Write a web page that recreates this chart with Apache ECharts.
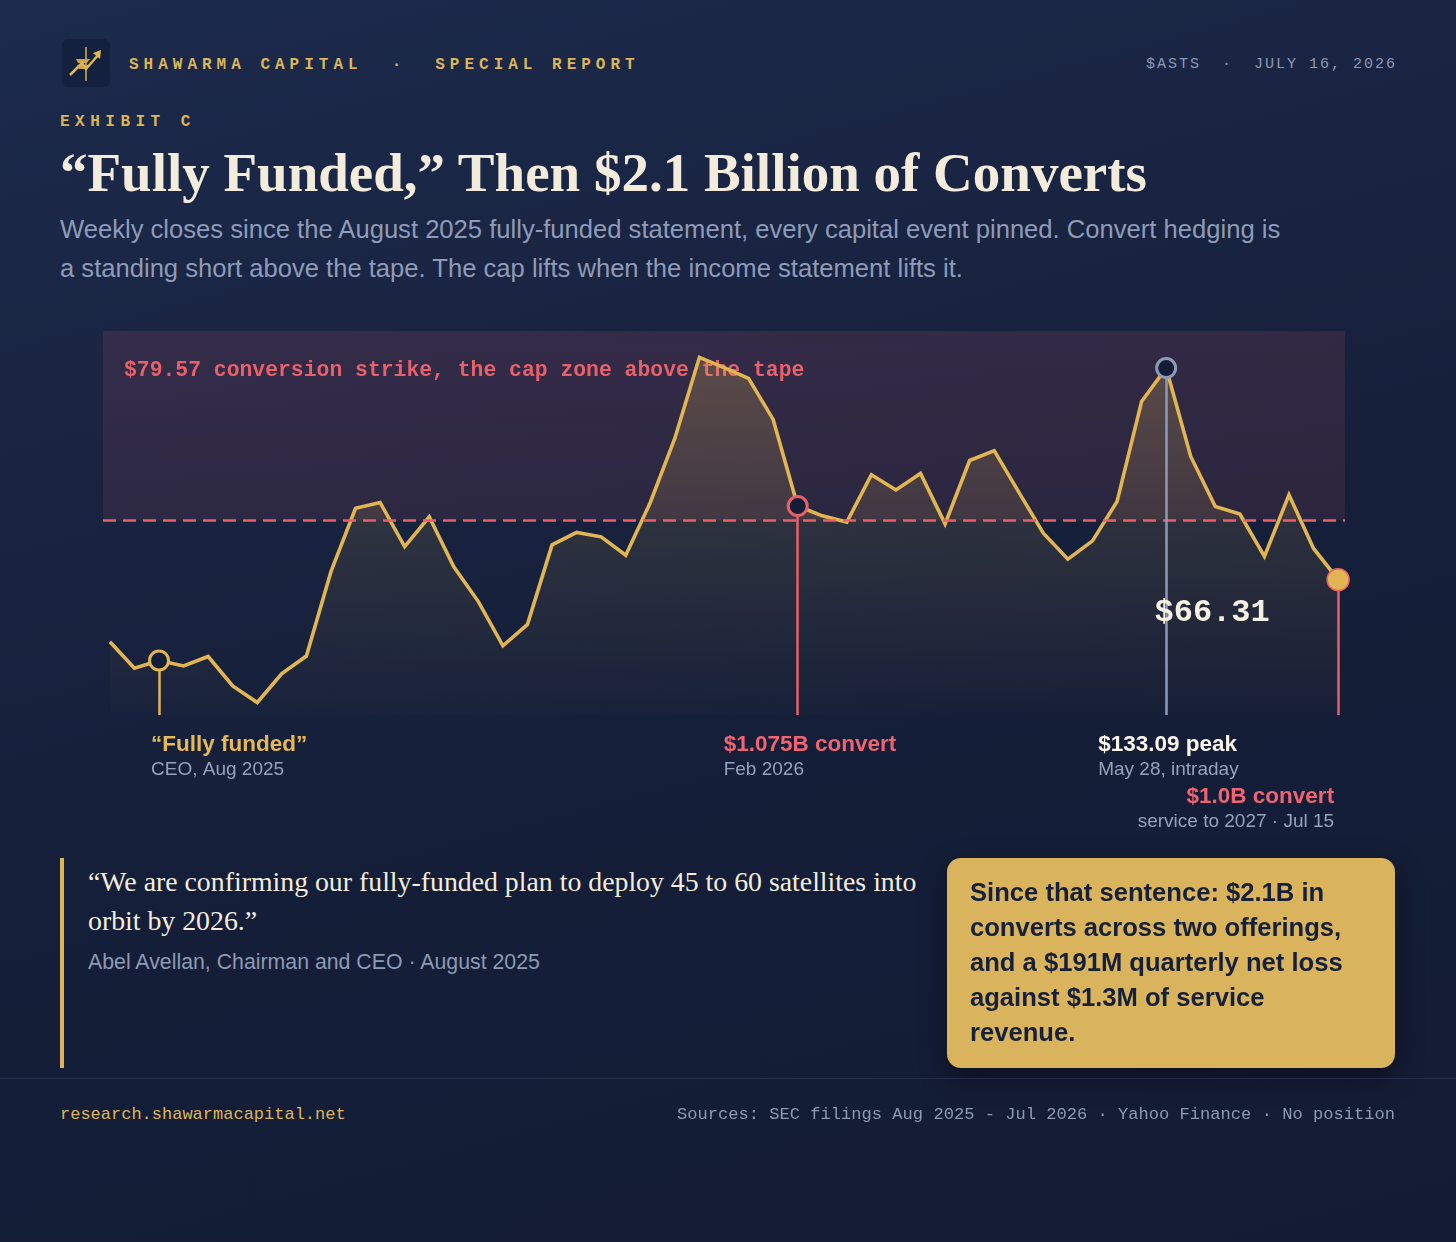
<!DOCTYPE html>
<html>
<head>
<meta charset="utf-8">
<script src="https://cdn.jsdelivr.net/npm/echarts@6/dist/echarts.min.js"></script>
<style>
  html, body { margin: 0; padding: 0; }
  body {
    width: 1456px; height: 1242px; position: relative; overflow: hidden;
    background: linear-gradient(165deg, #1c2a4c 0%, #18233f 35%, #151e38 60%, #141c35 100%);
    font-family: "Liberation Sans", Arial, sans-serif;
  }
  .abs { position: absolute; white-space: nowrap; }
  .mono { font-family: "Liberation Mono", "DejaVu Sans Mono", monospace; }
  #logo { left: 62px; top: 39px; width: 48px; height: 48px; background: #13203e; border-radius: 6px; }
  #brand { left: 129px; top: 55px; display: flex; gap: 29px; font-weight: bold; font-size: 16px;
    letter-spacing: 5.0px; color: #dcb55a; line-height: 20px; }
  #meta { right: 59px; top: 56px; display: flex; gap: 21px; font-size: 15px; letter-spacing: 2px;
    color: #8e99b5; line-height: 18px; }
  #exhibit { left: 60px; top: 112px; font-weight: bold; font-size: 16px; letter-spacing: 5.5px;
    color: #dcb55a; line-height: 20px; }
  #title { left: 60px; top: 145px; font-family: "Liberation Serif", "Times New Roman", serif;
    font-weight: bold; font-size: 55px; line-height: 55px; color: #f3ecdc; }
  #sub { left: 60px; top: 210px; font-size: 25.6px; line-height: 39px; color: #8f9bb8; }
  #chart { left: 0; top: 300px; width: 1456px; height: 560px; }
  #qbar { left: 60px; top: 858px; width: 4px; height: 210px; background: #dcb55a; }
  #quote { left: 88px; top: 862px; font-family: "Liberation Serif", "Times New Roman", serif;
    font-size: 27.8px; line-height: 39px; color: #f3ecdc; }
  #attr { left: 88px; top: 950px; font-size: 21.3px; line-height: 24px; color: #8e99b5; }
  #callout { left: 947px; top: 858px; width: 448px; height: 210px; box-sizing: border-box;
    padding: 17px 18px 0 23px; background: #d9b45c; border-radius: 14px;
    box-shadow: 0 10px 28px rgba(0,0,0,0.45); font-weight: bold; font-size: 25.6px;
    line-height: 35px; color: #16203b; }
  #rule { left: 0; top: 1078px; width: 1456px; height: 1px; background: #232d49; }
  #site { left: 60px; top: 1105px; font-size: 17px; line-height: 20px; color: #dcb55a; }
  #src { right: 61px; top: 1105px; font-size: 17.1px; line-height: 20px; color: #8e99b5; }
</style>
</head>
<body>
<div id="logo" class="abs">
  <svg width="48" height="48" viewBox="0 0 48 48">
    <line x1="24" y1="8" x2="24" y2="42" stroke="#d9b45c" stroke-width="1.5"/>
    <path d="M14 20 h14 l-3 4 h-9 z M15 26 h12 l-2 4 h-8 z" fill="#c9a24e"/>
    <polyline points="8,36 20,24 24,30 37,15" fill="none" stroke="#e2b553" stroke-width="2.5"/>
    <polygon points="39,11 38,20 31,14" fill="#e2b553"/>
  </svg>
</div>
<div id="brand" class="abs mono"><span>SHAWARMA CAPITAL</span><span>·</span><span>SPECIAL REPORT</span></div>
<div id="meta" class="abs mono"><span>$ASTS</span><span>·</span><span>JULY 16, 2026</span></div>
<div id="exhibit" class="abs mono">EXHIBIT C</div>
<div id="title" class="abs">“Fully Funded,” Then $2.1 Billion of Converts</div>
<div id="sub" class="abs">Weekly closes since the August 2025 fully-funded statement, every capital event pinned. Convert hedging is<br>a standing short above the tape. The cap lifts when the income statement lifts it.</div>
<div id="chart" class="abs"></div>
<div id="qbar" class="abs"></div>
<div id="quote" class="abs">“We are confirming our fully-funded plan to deploy 45 to 60 satellites into<br>orbit by 2026.”</div>
<div id="attr" class="abs">Abel Avellan, Chairman and CEO · August 2025</div>
<div id="callout" class="abs">Since that sentence: $2.1B in<br>converts across two offerings,<br>and a $191M quarterly net loss<br>against $1.3M of service<br>revenue.</div>
<div id="rule" class="abs"></div>
<div id="site" class="abs mono">research.shawarmacapital.net</div>
<div id="src" class="abs mono">Sources: SEC filings Aug 2025 - Jul 2026 · Yahoo Finance · No position</div>

<script>
// weekly closes, Aug 2025 -> Jul 2026
var closes = [52.4, 46.5, 48.2, 47.0, 49.1, 42.5, 38.8, 45.3, 49.2, 68.1,
              82.3, 83.6, 73.7, 80.4, 69.2, 61.4, 51.5, 56.3, 74.1, 76.9,
              75.9, 71.8, 83.6, 98.0, 116.1, 113.8, 111.4, 102.2, 82.8, 80.6,
              79.2, 89.8, 86.4, 90.1, 78.8, 93.0, 95.2, 85.9, 76.7, 70.9,
              75.0, 83.8, 106.2, 113.7, 93.9, 82.7, 81.0, 71.5, 85.3, 73.3,
              66.31];
var strike = 79.57;
var strikeText = '$79.57 conversion strike, the cap zone above the tape';
var lastText = '$66.31';

// pinned events: week index, headline, note
var eventIdx = [2, 28, 43, 50];
var eventTitles = ['“Fully funded”', '$1.075B convert', '$133.09 peak', '$1.0B convert'];
var eventNotes = ['CEO, Aug 2025', 'Feb 2026', 'May 28, intraday', 'service to 2027 · Jul 15'];

var yMin = 36, yMax = 122;
var gold = '#e2b553', red = '#e8606a', slate = '#8d9ab8', navy = '#141d38';

var eventColors = [gold, red, slate, red];
var eventTitleColors = ['#e6b955', '#ee6470', '#fbf6ea', '#ee6470'];
// label placement relative to the bottom of each drop line
var eventLabelPos = [[-8, 17], [-74, 17], [-68, 17], [-4, 69]];
var eventAlign = ['left', 'left', 'left', 'right'];

var chart = echarts.init(document.getElementById('chart'));

var markerData = eventIdx.map(function (idx, k) {
    var last = k === eventIdx.length - 1;
    var item = {
        value: [idx, closes[idx]],
        symbolSize: last ? 22 : 19,
        itemStyle: {
            opacity: 1,
            color: last ? gold : navy,
            borderColor: eventColors[k],
            borderWidth: last ? 1.5 : 3
        }
    };
    if (last) {
        item.label = {
            show: true,
            position: 'inside',
            offset: [-126, 33],
            formatter: lastText,
            fontFamily: 'Liberation Mono',
            fontWeight: 'bold',
            fontSize: 32,
            color: '#f6f0e2'
        };
    }
    return item;
});

var dropLines = eventIdx.map(function (idx, k) {
    return [
        {coord: [idx, closes[idx]], lineStyle: {color: eventColors[k]}},
        {coord: [idx, yMin]}
    ];
});

var labelData = eventIdx.map(function (idx, k) {
    return {
        value: [idx, yMin],
        itemStyle: {opacity: 1},
        label: {
            show: true,
            position: eventLabelPos[k],
            align: eventAlign[k],
            verticalAlign: 'top',
            formatter: '{t|' + eventTitles[k] + '}\n{n|' + eventNotes[k] + '}',
            rich: {
                t: {
                    fontFamily: 'Liberation Sans', fontWeight: 'bold', fontSize: 22.5,
                    lineHeight: 25, color: eventTitleColors[k], align: eventAlign[k]
                },
                n: {
                    fontFamily: 'Liberation Sans', fontSize: 19, lineHeight: 25,
                    color: '#97a1bb', align: eventAlign[k]
                }
            }
        }
    };
});

chart.setOption({
    animation: false,
    grid: {left: 103, right: 111, top: 31, height: 384},
    xAxis: {
        type: 'value', min: -0.28, max: 50.28,
        show: false, splitLine: {show: false}
    },
    yAxis: {
        type: 'value', min: yMin, max: yMax,
        show: false, splitLine: {show: false}
    },
    series: [
        {
            type: 'line',
            data: closes.map(function (v, i) { return [i, v]; }),
            symbol: 'none',
            z: 3,
            lineStyle: {color: gold, width: 3.6, join: 'miter'},
            areaStyle: {
                origin: 'start',
                color: new echarts.graphic.LinearGradient(0, 0, 0, 1, [
                    {offset: 0, color: 'rgba(226,181,83,0.34)'},
                    {offset: 0.45, color: 'rgba(226,181,83,0.17)'},
                    {offset: 1, color: 'rgba(226,181,83,0.02)'}
                ])
            },
            markArea: {
                silent: true,
                itemStyle: {
                    color: new echarts.graphic.LinearGradient(0, 0, 0, 1, [
                        {offset: 0, color: 'rgba(232,96,120,0.13)'},
                        {offset: 1, color: 'rgba(232,96,106,0.10)'}
                    ])
                },
                label: {
                    show: true,
                    position: 'insideTopLeft',
                    distance: 0,
                    offset: [21, 29],
                    fontFamily: 'Liberation Mono',
                    fontWeight: 'bold',
                    fontSize: 21.4,
                    color: red
                },
                data: [[{yAxis: strike, name: strikeText}, {yAxis: yMax}]]
            },
            markLine: {
                silent: true,
                symbol: 'none',
                label: {show: false},
                lineStyle: {color: red, type: [13, 7], width: 2.5},
                data: [{yAxis: strike}]
            }
        },
        {
            type: 'scatter',
            data: [],
            z: 2,
            markLine: {
                silent: true,
                symbol: 'none',
                label: {show: false},
                lineStyle: {type: 'solid', width: 2.5},
                data: dropLines
            }
        },
        {
            type: 'scatter',
            symbol: 'circle',
            z: 5,
            itemStyle: {opacity: 1},
            data: markerData
        },
        {
            type: 'scatter',
            symbolSize: 0,
            z: 5,
            itemStyle: {opacity: 1},
            data: labelData
        }
    ]
});
</script>
</body>
</html>
